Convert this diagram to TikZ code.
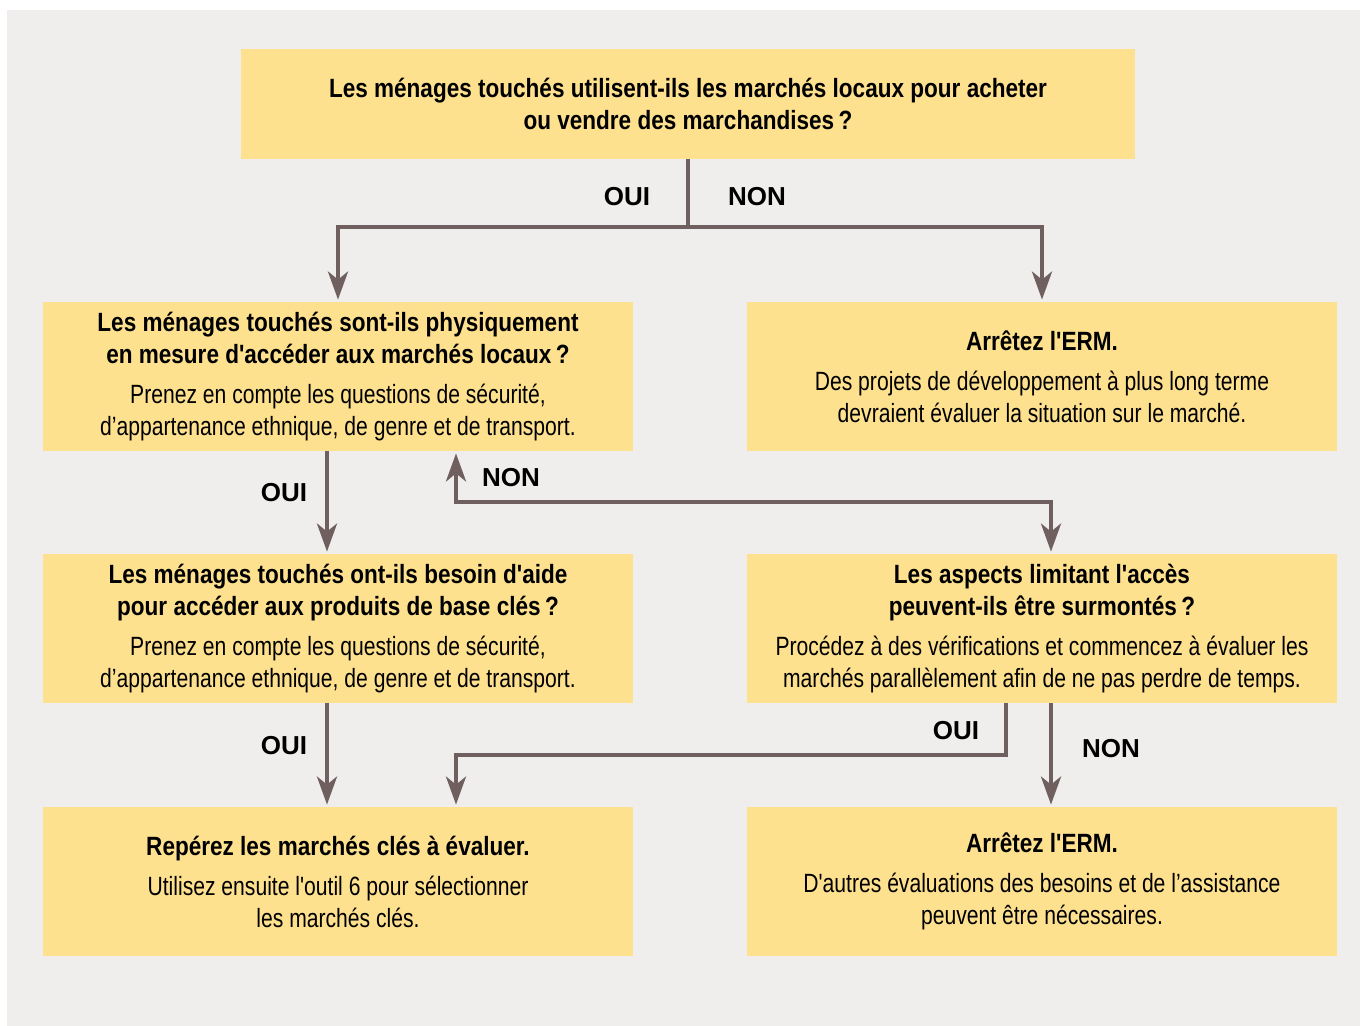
\documentclass[tikz,border=0pt]{standalone}
\usepackage{fontspec}
\newfontfamily\boxfont{Liberation Sans}[FakeStretch=0.8, BoldFeatures={FakeStretch=0.854}]
\newfontfamily\ansfont{Liberation Sans}
\usetikzlibrary{arrows.meta}
\definecolor{bggray}{HTML}{F0EEEC}
\definecolor{boxyellow}{HTML}{FEE18F}
\definecolor{arrowbrown}{HTML}{6F5F5F}

\begin{document}
\begin{tikzpicture}[
    x=0.5pt, y=-0.5pt,
    qbox/.style={fill=boxyellow, inner sep=0pt,
                 minimum width=295pt, minimum height=74.5pt,
                 align=center, font=\boxfont\fontsize{13.2}{16}\selectfont},
    ans/.style={font=\ansfont\bfseries\fontsize{13}{13}\selectfont},
    arr/.style={-{Stealth[length=14pt,width=10pt,inset=4pt]},
                line width=2pt, arrowbrown, shorten >=1pt},
    dblarr/.style={{Stealth[length=14pt,width=10pt,inset=4pt]}-{Stealth[length=14pt,width=10pt,inset=4pt]},
                   line width=2pt, arrowbrown, shorten >=1pt, shorten <=1pt}
]
% fond
\useasboundingbox (0,0) rectangle (1360,1026);
\fill[bggray] (7,10) rectangle (1360,1026);

% Question de départ
\node[qbox, minimum width=447pt, minimum height=55pt] (start) at (688,104)
  {\textbf{Les ménages touchés utilisent-ils les marchés locaux pour acheter}\\
   \textbf{ou vendre des marchandises\,?}};

% Colonne de gauche
\node[qbox] (access) at (338,376.5)
  {\textbf{Les ménages touchés sont-ils physiquement}\\
   \textbf{en mesure d'accéder aux marchés locaux\,?}\\[4pt]
   Prenez en compte les questions de sécurité,\\
   d’appartenance ethnique, de genre et de transport.};
\node[qbox] (help) at (338,628.5)
  {\textbf{Les ménages touchés ont-ils besoin d'aide}\\
   \textbf{pour accéder aux produits de base clés\,?}\\[4pt]
   Prenez en compte les questions de sécurité,\\
   d’appartenance ethnique, de genre et de transport.};
\node[qbox] (keymkt) at (338,881.5)
  {\textbf{Repérez les marchés clés à évaluer.}\\[4pt]
   Utilisez ensuite l'outil 6 pour sélectionner\\
   les marchés clés.};

% Colonne de droite
\node[qbox] (stopA) at (1042,376.5)
  {\textbf{Arrêtez l'ERM.}\\[4pt]
   Des projets de développement à plus long terme\\
   devraient évaluer la situation sur le marché.};
\node[qbox] (limits) at (1042,628.5)
  {\textbf{Les aspects limitant l'accès}\\
   \textbf{peuvent-ils être surmontés\,?}\\[4pt]
   Procédez à des vérifications et commencez à évaluer les\\
   marchés parallèlement afin de ne pas perdre de temps.};
\node[qbox] (stopB) at (1042,881.5)
  {\textbf{Arrêtez l'ERM.}\\[4pt]
   D'autres évaluations des besoins et de l’assistance\\
   peuvent être nécessaires.};

% Connecteurs
\draw[arr] (start.south) -- (start.south |- 0,227) -| (access.north);
\draw[arr] (start.south) -- (start.south |- 0,227) -| (stopA.north);
\draw[arr] ([xshift=-5.5pt]access.south) -- ([xshift=-5.5pt]help.north);
\draw[dblarr] ([xshift=59pt]access.south) -- ([xshift=59pt]access.south |- 0,502)
              -| ([xshift=4.5pt]limits.north);
\draw[arr] ([xshift=-5.5pt]help.south) -- ([xshift=-5.5pt]keymkt.north);
\draw[arr] ([xshift=-18pt]limits.south) -- ([xshift=-18pt]limits.south |- 0,755)
           -| ([xshift=59pt]keymkt.north);
\draw[arr] ([xshift=4.5pt]limits.south) -- ([xshift=4.5pt]stopB.north);

% Réponses
\node[ans] (yesA) at (627,197) {OUI};
\node[ans] (noA) at (757,197) {NON};
\node[ans] (yesB) at (284,493) {OUI};
\node[ans] (noB) at (511,478) {NON};
\node[ans] (yesC) at (284,746) {OUI};
\node[ans] (yesD) at (956,731) {OUI};
\node[ans] (noD) at (1111,749) {NON};
\end{tikzpicture}
\end{document}
